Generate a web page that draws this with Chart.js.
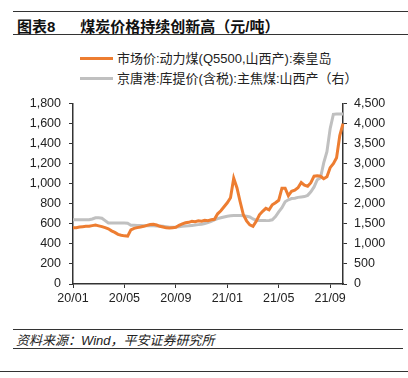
<!DOCTYPE html>
<html>
<head>
<meta charset="utf-8">
<script src="https://cdn.jsdelivr.net/npm/chart.js@4.4.1/dist/chart.umd.min.js"></script>
<style>
    body { margin: 0; background: #fff; font-family: "Liberation Sans", "Noto Sans CJK SC", sans-serif; }
    .page { position: relative; width: 408px; height: 378px; overflow: hidden; }
    .rule { position: absolute; height: 0; border-top: 1.5px solid #333; }
    .title { position: absolute; top: 15px; left: 17px; font-size: 15px; font-weight: bold; color: #111; white-space: nowrap; }
    .title span { margin-left: 25px; }
    .legend { position: absolute; left: 80px; font-size: 13px; color: #222; white-space: nowrap; }
    .legend i { display: inline-block; width: 33px; height: 3px; vertical-align: middle; margin-right: 4px; position: relative; top: -1px; }
    .source { position: absolute; top: 330px; left: 16px; font-size: 13px; font-style: italic; color: #222; white-space: nowrap; }
    #chartBox { position: absolute; left: 0; top: 88px; width: 408px; height: 222px; }
</style>
</head>
<body>
<div class="page">
    <div class="rule" style="top:11px; left:13px; width:395px;"></div>
    <div class="title">图表8<span>煤炭价格持续创新高（元/吨）</span></div>
    <div class="rule" style="top:34px; left:13px; width:395px;"></div>

    <div class="legend" style="top:48px;"><i style="background:#ED7D31"></i>市场价:动力煤(Q5500,山西产):秦皇岛</div>
    <div class="legend" style="top:68px;"><i style="background:#C0C0C0"></i>京唐港:库提价(含税):主焦煤:山西产（右）</div>

    <div id="chartBox"><canvas id="coalChart"></canvas></div>

    <div class="rule" style="top:329px; left:13px; width:390px;"></div>
    <div class="source">资料来源：Wind，平安证券研究所</div>
    <div class="rule" style="top:348px; left:13px; width:390px;"></div>
    <div class="rule" style="top:371px; left:0; width:408px;"></div>
</div>

<script>
// Weekly readings, 2020/01 to 2021/09
const thermalCoal = [
    560, 562, 568, 572, 575, 575, 582, 587, 580, 572,
    562, 550, 530, 515, 495, 487, 480, 478, 540, 555,
    562, 568, 575, 585, 593, 595, 588, 575, 568, 560,
    558, 562, 565, 585, 600, 610, 615, 625, 622, 630,
    626, 635, 632, 640, 645, 700, 730, 770, 810, 860,
    1055, 960, 820, 690, 630, 590, 575, 625, 690, 725,
    755, 740, 790, 810, 835, 955, 955, 880, 925, 935,
    960, 1012, 985, 975, 1010, 1075, 1080, 1075, 1050, 1070,
    1160, 1200, 1260, 1480, 1600
];

const cokingCoal = [
    1600, 1600, 1600, 1600, 1600, 1600, 1620, 1650, 1650, 1640,
    1580, 1520, 1520, 1520, 1520, 1520, 1520, 1515, 1465, 1465,
    1460, 1460, 1455, 1455, 1450, 1450, 1445, 1445, 1440, 1430,
    1415, 1415, 1420, 1430, 1440, 1445, 1450, 1460, 1470, 1480,
    1490, 1510, 1530, 1560, 1600, 1630, 1650, 1670, 1690, 1700,
    1710, 1710, 1710, 1700, 1690, 1670, 1620, 1590, 1580, 1580,
    1580, 1585, 1600, 1680, 1800, 1900, 2050, 2100, 2130, 2140,
    2160, 2170, 2180, 2210, 2300, 2420, 2600, 2650, 3020, 3300,
    3870, 4230, 4240, 4240, 4240
];

const tickIdx = [0, 16, 32, 48, 64, 80];
const tickLabels = ['20/01', '20/05', '20/09', '21/01', '21/05', '21/09'];

const weeks = thermalCoal.map((_, i) => i);

const axisColor = '#333';
const tickFont = { family: '"Liberation Sans", Arial, sans-serif', size: 12.5 };

new Chart(document.getElementById('coalChart'), {
    type: 'line',
    data: {
        labels: weeks,
        datasets: [
            {
                label: '市场价:动力煤(Q5500,山西产):秦皇岛',
                data: thermalCoal,
                borderColor: '#ED7D31',
                borderWidth: 3,
                pointRadius: 0,
                tension: 0,
                yAxisID: 'y'
            },
            {
                label: '京唐港:库提价(含税):主焦煤:山西产（右）',
                data: cokingCoal,
                borderColor: '#C0C0C0',
                borderWidth: 3,
                pointRadius: 0,
                tension: 0,
                yAxisID: 'y1'
            }
        ]
    },
    options: {
        responsive: true,
        maintainAspectRatio: false,
        animation: false,
        layout: { padding: { top: 11, left: 0, right: 0, bottom: 0 } },
        plugins: {
            legend: { display: false },
            tooltip: { enabled: false }
        },
        scales: {
            x: {
                type: 'category',
                offset: false,
                afterBuildTicks: function(scale) {
                    scale.ticks = tickIdx.map(v => ({ value: v }));
                },
                afterFit: function(scale) { scale.height = 26; },
                grid: { drawOnChartArea: false, color: axisColor, tickLength: 4 },
                border: { display: true, color: axisColor, width: 1.5 },
                ticks: {
                    autoSkip: false,
                    maxRotation: 0,
                    padding: 3,
                    color: '#222',
                    font: tickFont,
                    callback: function(value) {
                        return tickLabels[tickIdx.indexOf(value)];
                    }
                }
            },
            y: {
                position: 'left',
                min: 0,
                max: 1800,
                afterFit: function(scale) { scale.width = 73; },
                grid: { drawOnChartArea: false, color: axisColor, tickLength: 4 },
                border: { display: true, color: axisColor, width: 1.5 },
                ticks: {
                    stepSize: 200,
                    padding: 8,
                    color: '#222',
                    font: tickFont,
                    callback: v => v.toLocaleString('en-US')
                }
            },
            y1: {
                position: 'right',
                min: 0,
                max: 4500,
                afterFit: function(scale) { scale.width = 65; },
                grid: { drawOnChartArea: false, color: axisColor, tickLength: 4 },
                border: { display: true, color: axisColor, width: 1.5 },
                ticks: {
                    stepSize: 500,
                    padding: 7,
                    color: '#222',
                    font: tickFont,
                    callback: v => v.toLocaleString('en-US')
                }
            }
        }
    }
});
</script>
</body>
</html>
